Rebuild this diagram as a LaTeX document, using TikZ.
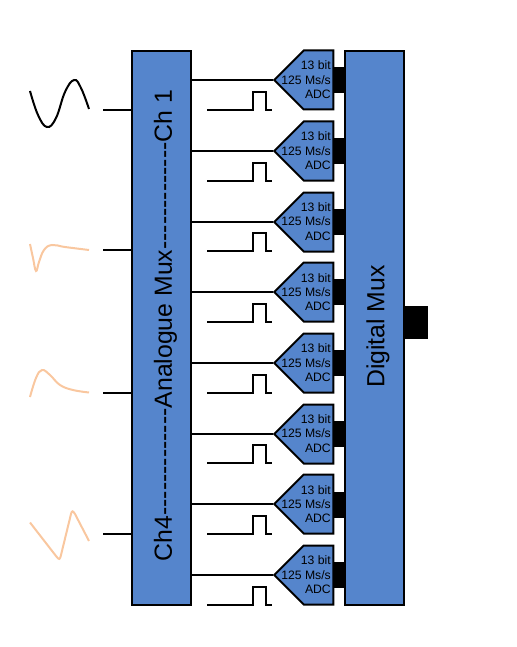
\documentclass[tikz,border=0pt]{standalone}
\usepackage{fontspec}
\setmainfont{Liberation Sans}
\usetikzlibrary{shapes.symbols}
\definecolor{muxblue}{HTML}{5585CC}
\definecolor{wavepeach}{HTML}{F9C79F}
\newcommand{\dashrun}{-{}-{}-{}-{}-{}-{}-{}-{}-{}-{}-{}-{}-{}}
\tikzset{
  mux/.style={draw, line width=2pt, fill=muxblue, minimum width=59pt, minimum height=554pt, inner sep=0pt},
  adc/.style={draw, line width=2pt, fill=muxblue, signal, signal to=west, signal pointer angle=90,
    minimum width=59pt, minimum height=59pt, inner sep=0pt},
  adclabel/.style={align=right, anchor=east, inner sep=0pt, font=\fontsize{12.2}{14.4}\selectfont},
  muxlabel/.style={rotate=90, inner sep=0pt, font=\fontsize{24.8}{28}\selectfont},
  port/.style={fill=black, inner sep=0pt},
  wire/.style={line width=2pt},
  wave/.style={line width=2pt, smooth, tension=0.7},
}
\begin{document}
\begin{tikzpicture}[x=1pt, y=-1pt]
    \useasboundingbox (0,0) rectangle (516,647);
    % the two multiplexers
    \node[mux] (amux) at (161.5,328) {};
    \node[mux] (dmux) at (374.5,328) {};
    \node[muxlabel] (alabel) at (165.5,325.5) {Ch4\dashrun Analogue Mux\dashrun Ch 1};
    \node[muxlabel] (dlabel) at (378,326.5) {Digital Mux};
    \node[port, minimum width=23pt, minimum height=33pt, right=0pt] (out) at (dmux.east |- 0,322) {};
    % one converter per line
    \foreach \i in {0,...,7} {
      \node[adc] (adc\i) at (318.5,{round(80.3+70.7*\i)}) {};
      \node[adclabel] (adclabel\i) at (331,{80+70.7*\i}) {13 bit\\125 Ms/s\\ADC};
      \node[port, minimum width=12pt, minimum height=26pt] (link\i) at (339,{80.3+70.7*\i}) {};
      \draw[wire] (amux.east |- adc\i.west) -- (adc\i.west);
      % clock pulse
      \coordinate (clk\i) at (207,{round(110+70.7*\i)});
      \draw[wire] (clk\i) -- ++(46,0) -- ++(0,-18) -- ++(13,0) -- ++(0,18) -- ++(6,0);
    }
    % input signals
    \draw[wave] plot coordinates {(30,91) (38,115) (47,127) (56,118) (65,92) (74,80) (81,88) (89,109)};
    \draw[wave, wavepeach] plot coordinates {(30,244) (33,258) (36,271) (39,262) (44,250) (52,245) (65,247) (89,250)};
    \draw[wave, wavepeach] plot coordinates {(30,397) (36,378) (42,370) (50,375) (60,385) (73,390) (89,392.5)};
    \draw[line width=2pt, wavepeach] (30,522.5) -- (56,556) .. controls (59,560) and (60,560) .. (61,555) -- (71,514) .. controls (72,510) and (73,511) .. (75,514) -- (89,541);
    \foreach \y [count=\j] in {110,250,393,534} {
      \coordinate (in\j) at (103,\y);
      \draw[wire] (in\j) -- (in\j -| amux.west);
    }
  \end{tikzpicture}
\end{document}
